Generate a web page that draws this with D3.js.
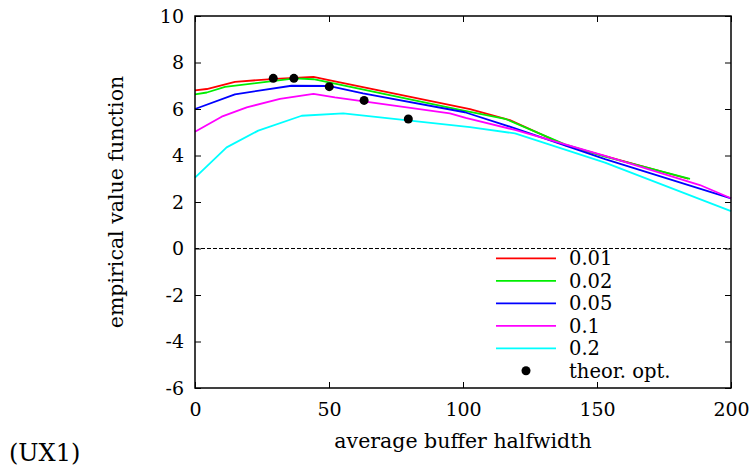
<!DOCTYPE html>
<html>
<head>
<meta charset="utf-8">
<script src="https://cdn.jsdelivr.net/npm/d3@7"></script>
<style>
  html, body { margin: 0; padding: 0; background: #fff; }
  svg { display: block; }
  text { font-family: "DejaVu Serif", serif; fill: #000; }
</style>
</head>
<body>
<svg id="chart" width="754" height="470"></svg>
<script>
// ---- data ----
const seriesNames = ["0.01", "0.02", "0.05", "0.1", "0.2"];
const seriesColors = ["#ff0000", "#00ee00", "#0000ff", "#ff00ff", "#00ffff"];

const x001 = [0, 4.4, 14.9, 30, 44.2, 50.4, 102.6, 117.5, 138, 153, 184];
const y001 = [6.80, 6.86, 7.17, 7.30, 7.38, 7.23, 5.99, 5.52, 4.45, 3.97, 3.00];

const x002 = [0, 4.4, 11.2, 37.3, 44.2, 98.9, 115.7, 138, 153, 184.7];
const y002 = [6.63, 6.71, 6.95, 7.32, 7.28, 5.96, 5.58, 4.48, 3.95, 2.99];

const x005 = [0, 14.9, 36, 49.8, 62.7, 100.7, 119.4, 153, 200];
const y005 = [6.00, 6.63, 7.00, 6.99, 6.67, 5.86, 5.17, 3.84, 2.16];

const x01 = [0, 9.95, 19.3, 31.7, 44.2, 52.2, 95.1, 101, 119.4, 153, 188.4, 200];
const y01 = [5.02, 5.67, 6.07, 6.44, 6.65, 6.50, 5.81, 5.62, 5.10, 3.98, 2.73, 2.16];

const x02 = [0, 11.8, 23.6, 39.8, 55.3, 102.6, 119.4, 153, 200];
const y02 = [3.05, 4.35, 5.07, 5.71, 5.81, 5.22, 4.95, 3.69, 1.61];

const optX = [29.2, 36.9, 50.1, 63.1, 79.6];
const optY = [7.32, 7.32, 6.96, 6.37, 5.57];

const xTicks = [0, 50, 100, 150, 200];
const yTicks = [-6, -4, -2, 0, 2, 4, 6, 8, 10];

const xLabel = "average buffer halfwidth";
const yLabel = "empirical value function";
const optLabel = "theor. opt.";
const panelLabel = "(UX1)";

// ---- chart ----
const svg = d3.select("#chart");
const L = 195, R = 731, T = 16, B = 388;
const x = d3.scaleLinear().domain([0, 200]).range([L, R]);
const y = d3.scaleLinear().domain([-6, 10]).range([B, T]);
const FS_NUM = 19;
const FS_LAB = 20.5;
const FS_LEG = 19.5;

const allX = [x001, x002, x005, x01, x02];
const allY = [y001, y002, y005, y01, y02];

// zero dashed line
svg.append("line")
  .attr("x1", x(0)).attr("x2", x(200))
  .attr("y1", y(0)).attr("y2", y(0))
  .attr("stroke", "#000").attr("stroke-width", 1)
  .attr("stroke-dasharray", "4,2");

// curves
const line = d3.line().x(d => x(d[0])).y(d => y(d[1]));
allX.forEach((xs, i) => {
  const pts = xs.map((v, j) => [v, allY[i][j]]);
  svg.append("path")
    .attr("d", line(pts))
    .attr("fill", "none")
    .attr("stroke", seriesColors[i])
    .attr("stroke-width", 1.8)
    .attr("stroke-linejoin", "round");
});

// theoretical optimum dots
svg.selectAll("circle.opt")
  .data(optX.map((v, i) => [v, optY[i]]))
  .enter().append("circle")
  .attr("class", "opt")
  .attr("cx", d => x(d[0])).attr("cy", d => y(d[1]))
  .attr("r", 4.5).attr("fill", "#000");

// axes
const fmt = d => String(d);
function styleAxis(g) {
  g.select(".domain").remove();
  g.selectAll(".tick line").attr("stroke", "#000").attr("stroke-width", 1);
  g.selectAll(".tick text").attr("font-size", FS_NUM).attr("font-family", "DejaVu Serif");
}
svg.append("g").attr("transform", `translate(0,${B})`)
  .call(d3.axisBottom(x).tickValues(xTicks).tickSize(-6).tickPadding(15).tickFormat(fmt))
  .call(styleAxis);
svg.append("g").attr("transform", `translate(0,${T})`)
  .call(d3.axisTop(x).tickValues(xTicks).tickSize(-6).tickFormat(""))
  .call(styleAxis);
svg.append("g").attr("transform", `translate(${L},0)`)
  .call(d3.axisLeft(y).tickValues(yTicks).tickSize(-6).tickPadding(11).tickFormat(fmt))
  .call(styleAxis);
svg.append("g").attr("transform", `translate(${R},0)`)
  .call(d3.axisRight(y).tickValues(yTicks).tickSize(-6).tickFormat(""))
  .call(styleAxis);

// frame
svg.append("rect")
  .attr("x", L).attr("y", T).attr("width", R - L).attr("height", B - T)
  .attr("fill", "none").attr("stroke", "#000").attr("stroke-width", 1.5);

// axis labels
svg.append("text")
  .attr("x", (L + R) / 2).attr("y", 448)
  .attr("text-anchor", "middle").attr("font-size", FS_LAB)
  .text(xLabel);
svg.append("text")
  .attr("transform", `translate(123,${(T + B) / 2}) rotate(-90)`)
  .attr("text-anchor", "middle").attr("font-size", FS_LAB)
  .text(yLabel);
svg.append("text")
  .attr("x", 9).attr("y", 461).attr("font-size", 24)
  .text(panelLabel);

// legend
const legY0 = 258.3, legDY = 22.5;
seriesNames.forEach((name, i) => {
  const yy = legY0 + i * legDY;
  svg.append("line")
    .attr("x1", 496).attr("x2", 556).attr("y1", yy).attr("y2", yy)
    .attr("stroke", seriesColors[i]).attr("stroke-width", 1.8);
  svg.append("text")
    .attr("x", 569).attr("y", yy).attr("dy", "0.35em")
    .attr("font-size", FS_LEG).text(name);
});
const optYY = legY0 + 5 * legDY;
svg.append("circle").attr("cx", 526).attr("cy", optYY).attr("r", 4.5).attr("fill", "#000");
svg.append("text")
  .attr("x", 569).attr("y", optYY).attr("dy", "0.35em")
  .attr("font-size", FS_LEG).text(optLabel);
</script>
</body>
</html>
